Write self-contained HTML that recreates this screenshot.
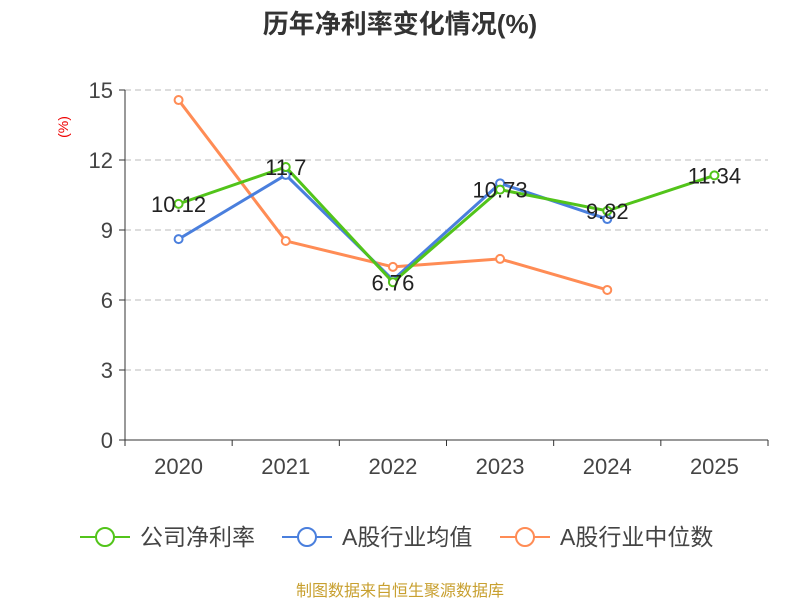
<!DOCTYPE html>
<html><head><meta charset="utf-8">
<style>
body{margin:0;background:#fff;}
svg text{font-family:"Liberation Sans","Noto Sans CJK SC",sans-serif;}
</style></head>
<body>
<svg id="chart" width="800" height="600" viewBox="0 0 800 600">
<text x="400" y="33" text-anchor="middle" font-size="26" font-weight="bold" fill="#333">历年净利率变化情况(%)</text>
<text x="68" y="127" text-anchor="middle" font-size="14" fill="#e00" transform="rotate(-90 68 127)">(%)</text>
<g id="grid"></g><g id="axes"></g><g id="series"></g>
<g>
 <g>
  <line x1="80" y1="537" x2="130" y2="537" stroke="#52c41a" stroke-width="2"/><circle cx="105" cy="537" r="9" fill="#fff" stroke="#52c41a" stroke-width="2"/>
  <text x="140" y="545" font-size="23" fill="#444">公司净利率</text></g>
 <g>
  <line x1="282" y1="537" x2="332" y2="537" stroke="#4a7fdd" stroke-width="2"/><circle cx="307" cy="537" r="9" fill="#fff" stroke="#4a7fdd" stroke-width="2"/>
  <text x="342" y="545" font-size="23" fill="#444">A股行业均值</text></g>
 <g>
  <line x1="500" y1="537" x2="550" y2="537" stroke="#ff8c55" stroke-width="2"/><circle cx="525" cy="537" r="9" fill="#fff" stroke="#ff8c55" stroke-width="2"/>
  <text x="560" y="545" font-size="23" fill="#444">A股行业中位数</text></g>
</g>
<text x="400" y="596" text-anchor="middle" font-size="16" fill="#c8a030">制图数据来自恒生聚源数据库</text>
</svg>
<script>
const categories=["2020","2021","2022","2023","2024","2025"];
const netMargin=[10.12,11.7,6.76,10.73,9.82,11.34];
const industryAvg=[8.61,11.36,6.86,11.0,9.47,null];
const industryMedian=[14.57,8.53,7.42,7.76,6.43,null];
const yTicks=[0,3,6,9,12,15];
const NS="http://www.w3.org/2000/svg";
const L=125,R=768,T=90,B=440,yMax=15;
const bw=(R-L)/categories.length;
const x=i=>L+bw*(i+0.5);
const y=v=>B-(v/yMax)*(B-T);
function mk(tag,at,parent){const e=document.createElementNS(NS,tag);for(const k in at)e.setAttribute(k,at[k]);parent.appendChild(e);return e;}
const grid=document.getElementById('grid'),axes=document.getElementById('axes'),ser=document.getElementById('series');
yTicks.forEach(t=>{
 if(t>0){const g=mk('line',{x1:L,x2:R,y1:y(t),y2:y(t),stroke:'#bbb','stroke-dasharray':'6,4'},grid);
 
 }
 const tk=mk('line',{x1:L-6,x2:L,y1:y(t),y2:y(t),stroke:'#333'},axes);
 
 
 const tx=mk('text',{x:L-12,y:y(t)+8,'text-anchor':'end','font-size':22,fill:'#444'},axes);tx.textContent=t;
 
 
});
const ya=mk('line',{x1:L,x2:L,y1:T,y2:B,stroke:'#333'},axes);


const xa=mk('line',{x1:L,x2:R,y1:B,y2:B,stroke:'#333'},axes);


for(let i=0;i<=categories.length;i++){const tk=mk('line',{x1:L+bw*i,x2:L+bw*i,y1:B,y2:B+6,stroke:'#333'},axes);
 
 }
categories.forEach((c,i)=>{const t=mk('text',{x:x(i),y:B+34,'text-anchor':'middle','font-size':22,fill:'#444'},axes);t.textContent=c;
 
 });
function draw(data,color,name){
 const pts=data.map((v,i)=>v==null?null:[x(i),y(v)]).filter(p=>p);
 const pl=mk('polyline',{points:pts.map(p=>p.join(',')).join(' '),fill:'none',stroke:color,'stroke-width':3},ser);
 
 
 data.forEach((v,i)=>{if(v==null)return;
  const c=mk('circle',{cx:x(i),cy:y(v),r:4,fill:'#fff',stroke:color,'stroke-width':2},ser);
  
  
 });
}
draw(industryMedian,'#ff8c55','industry-median');
draw(industryAvg,'#4a7fdd','industry-avg');
draw(netMargin,'#52c41a','net-margin');
netMargin.forEach((v,i)=>{const t=mk('text',{x:x(i),y:y(v)+8,'text-anchor':'middle','font-size':22,fill:'#222'},ser);t.textContent=v;
 
 });
</script>
</body></html>
